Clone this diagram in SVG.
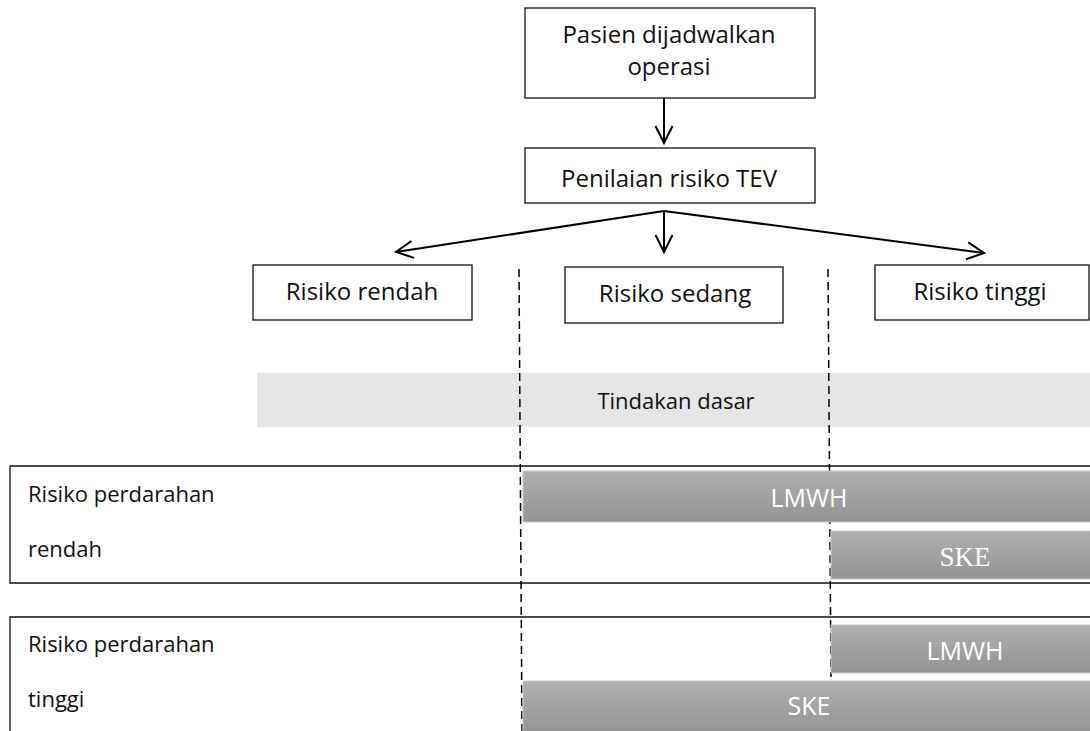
<svg xmlns="http://www.w3.org/2000/svg" width="1090" height="731" viewBox="0 0 1090 731">
<style>
.box{fill:#fff;stroke:#111;stroke-width:1.3}
.t{font-family:"Open Sans","Noto Sans",sans-serif;font-size:22px;fill:#111}
.n{font-size:24px}
.c{text-anchor:middle}
.w{fill:#fff;font-size:25px}
.serif{font-family:"Liberation Serif","Times New Roman",serif;font-size:27px;fill:#fff;text-anchor:middle}
.con{stroke:#000;stroke-width:2;fill:none}
.dash{stroke:#000;stroke-width:1.5;stroke-dasharray:8 5;fill:none}
.bar{fill:url(#g);stroke:#c8c8c8;stroke-width:1}
</style>
<defs>
<linearGradient id="g" x1="0" y1="0" x2="0" y2="1">
<stop offset="0" stop-color="#b0b0b0"/>
<stop offset="1" stop-color="#939393"/>
</linearGradient>
<marker id="ah" viewBox="0 0 20 20" refX="18" refY="10" markerWidth="20" markerHeight="20" markerUnits="userSpaceOnUse" orient="auto">
<path d="M1,1.5 L18,10 L1,18.5" fill="none" stroke="#000" stroke-width="2"/>
</marker>
</defs>

<g id="tindakan-dasar">
<rect x="257" y="373" width="833" height="54" fill="#e6e6e6"/>
<text class="t c" x="676" y="409">Tindakan dasar</text>
</g>

<g id="row-rendah">
<path d="M1095,466 H10 V583 H1095" class="box"/>
<text class="t" x="28" y="502">Risiko perdarahan</text>
<text class="t" x="28" y="557">rendah</text>
</g>

<g id="row-tinggi">
<path d="M1095,617 H10 V735" class="box"/>
<text class="t" x="28" y="652">Risiko perdarahan</text>
<text class="t" x="28" y="707">tinggi</text>
</g>

<g id="connectors">
<line class="con" x1="664" y1="98" x2="664" y2="143" marker-end="url(#ah)"/>
<line class="con" x1="664" y1="211" x2="396" y2="252" marker-end="url(#ah)"/>
<line class="con" x1="664" y1="211" x2="664" y2="252" marker-end="url(#ah)"/>
<line class="con" x1="664" y1="211" x2="984" y2="253" marker-end="url(#ah)"/>
<line class="dash" x1="519" y1="269" x2="522" y2="731"/>
<line class="dash" x1="828" y1="269" x2="831" y2="677"/>
</g>

<g id="pasien">
<rect class="box" x="525" y="8" width="290" height="90"/>
<text class="t n c" x="669" y="43">Pasien dijadwalkan</text>
<text class="t n c" x="669" y="75">operasi</text>
</g>

<g id="penilaian">
<rect class="box" x="525" y="148" width="290" height="55"/>
<text class="t n c" x="669" y="187">Penilaian risiko TEV</text>
</g>

<g id="risiko-rendah">
<rect class="box" x="253" y="265" width="219" height="55"/>
<text class="t n c" x="362" y="300">Risiko rendah</text>
</g>

<g id="risiko-sedang">
<rect class="box" x="565" y="267" width="218" height="56"/>
<text class="t n c" x="675" y="302">Risiko sedang</text>
</g>

<g id="risiko-tinggi">
<rect class="box" x="875" y="265" width="214" height="55"/>
<text class="t n c" x="980" y="300">Risiko tinggi</text>
</g>

<g id="lmwh-1">
<rect class="bar" x="523" y="471" width="570" height="51"/>
<text class="t c w" x="809" y="507">LMWH</text>
</g>

<g id="ske-1">
<rect class="bar" x="831" y="531" width="262" height="48"/>
<text class="serif" x="965" y="566">SKE</text>
</g>

<g id="lmwh-2">
<rect class="bar" x="831" y="625" width="262" height="48"/>
<text class="t c w" x="965" y="660">LMWH</text>
</g>

<g id="ske-2">
<rect class="bar" x="523" y="681" width="570" height="55"/>
<text class="t c w" x="809" y="715">SKE</text>
</g>
</svg>
